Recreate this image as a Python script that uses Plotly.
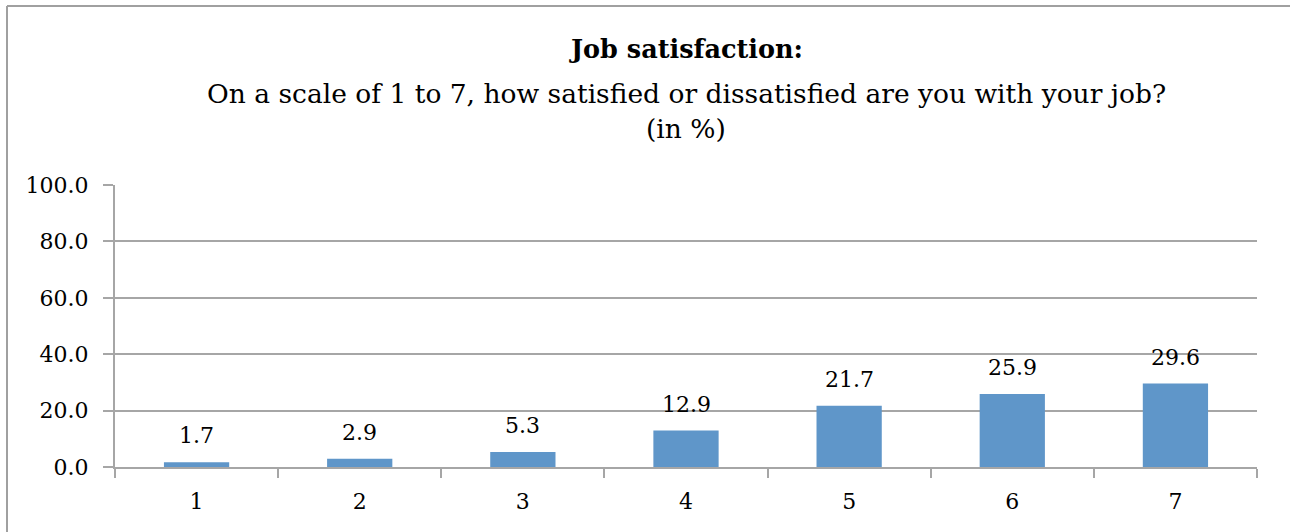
import plotly.graph_objects as go

categories = ["1", "2", "3", "4", "5", "6", "7"]
values = [1.7, 2.9, 5.3, 12.9, 21.7, 25.9, 29.6]
y_ticks = [0, 20, 40, 60, 80, 100]
title_line1 = "Job satisfaction:"
title_line2 = "On a scale of 1 to 7, how satisfied or dissatisfied are you with your job?"
title_line3 = "(in %)"

FONT = "DejaVu Serif"
GRID = "#a6a6a6"
BAR = "#5f96c9"
TS = 22

W, H = 1290, 532
L, R, T, B = 115, 33, 185, 65
ph = H - T - B
pw = W - L - R

def py(pix):
    return (H - B - pix) / ph

def px(pix):
    return (pix - L) / pw

fig = go.Figure()
fig.add_trace(go.Bar(
    x=categories, y=values, marker=dict(color=BAR, line=dict(width=0)),
    width=0.4, hoverinfo="skip",
))

annotations = []
for i, v in enumerate(values):
    annotations.append(dict(x=i, y=v, xref="x", yref="y", text=f"{v:.1f}",
                            showarrow=False, yanchor="bottom", yshift=12,
                            font=dict(family=FONT, size=TS, color="#000")))
annotations.append(dict(x=0.5, y=py(49), xref="paper", yref="paper", text=f"<b>{title_line1}</b>",
                        showarrow=False, yanchor="middle", xanchor="center",
                        font=dict(family=FONT, size=25.5, color="#000")))
annotations.append(dict(x=0.5, y=py(94), xref="paper", yref="paper", text=title_line2,
                        showarrow=False, yanchor="middle", xanchor="center",
                        font=dict(family=FONT, size=26.5, color="#000")))
annotations.append(dict(x=0.5, y=py(128), xref="paper", yref="paper", text=title_line3,
                        showarrow=False, yanchor="middle", xanchor="center",
                        font=dict(family=FONT, size=26.5, color="#000")))

shapes = [
    dict(type="line", xref="paper", yref="paper", x0=px(7), x1=px(1300), y0=py(6), y1=py(6),
         line=dict(color="#a0a0a0", width=2)),
    dict(type="line", xref="paper", yref="paper", x0=px(7), x1=px(7), y0=py(6), y1=py(560),
         line=dict(color="#a0a0a0", width=2)),
]

fig.update_layout(
    width=W, height=H,
    margin=dict(l=L, r=R, t=T, b=B, pad=0, autoexpand=False),
    paper_bgcolor="white", plot_bgcolor="white",
    showlegend=False,
    annotations=annotations, shapes=shapes,
    font=dict(family=FONT, size=TS, color="#000"),
    bargap=0.6,
)
fig.update_xaxes(
    type="category", tickson="boundaries", ticks="outside", ticklen=9, tickcolor=GRID, tickwidth=2,
    showline=True, linecolor=GRID, linewidth=2, showgrid=False, automargin=False,
    tickfont=dict(family=FONT, size=TS), ticklabelstandoff=14,
)
fig.update_yaxes(
    range=[0, 100], tickvals=y_ticks, tickformat=".1f", ticks="outside", ticklen=10,
    tickcolor=GRID, tickwidth=2, showline=True, linecolor=GRID, linewidth=2,
    showgrid=True, gridcolor=GRID, gridwidth=2, zeroline=False, automargin=False,
    tickfont=dict(family=FONT, size=TS), ticklabelstandoff=10,
)

fig.write_html("out.html", config={"displayModeBar": False},
               post_script="document.body.style.margin='0';document.body.style.overflow='hidden';")
